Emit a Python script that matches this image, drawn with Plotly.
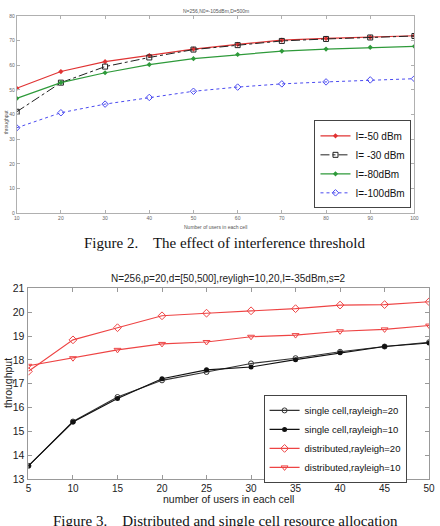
import plotly.graph_objects as go

# ---- Figure 2 data ----
users1 = [10, 20, 30, 40, 50, 60, 70, 80, 90, 100]
i_m50 = [50.6, 57.4, 61.4, 63.9, 66.5, 68.4, 70.1, 70.8, 71.3, 71.9]
i_m30 = [41.1, 52.9, 59.4, 63.1, 66.3, 68.1, 69.8, 70.6, 71.2, 71.8]
i_m80 = [46.5, 52.9, 56.9, 60.2, 62.6, 64.3, 65.7, 66.5, 67.2, 67.6]
i_m100 = [34.6, 40.7, 44.2, 46.9, 49.4, 51.1, 52.4, 53.2, 54.0, 54.5]

# ---- Figure 3 data ----
users2 = [5, 10, 15, 20, 25, 30, 35, 40, 45, 50]
single_r20 = [13.55, 15.41, 16.44, 17.14, 17.49, 17.85, 18.07, 18.34, 18.56, 18.74]
single_r10 = [13.55, 15.39, 16.38, 17.21, 17.58, 17.70, 18.01, 18.30, 18.56, 18.71]
dist_r20 = [17.52, 18.84, 19.35, 19.85, 19.96, 20.06, 20.15, 20.30, 20.32, 20.44]
dist_r10 = [17.75, 18.07, 18.42, 18.67, 18.75, 18.97, 19.04, 19.20, 19.28, 19.44]

W, H = 440, 526
def py(px):
    return 1 - px / H

fig = go.Figure()

# chart 1 traces
fig.add_trace(go.Scatter(x=users1, y=i_m50, name="I=-50 dBm", mode="lines+markers",
                         line=dict(color="#e03333", width=1.2),
                         marker=dict(symbol="diamond", size=4, color="#e03333"),
                         xaxis="x", yaxis="y", legend="legend"))
fig.add_trace(go.Scatter(x=users1, y=i_m30, name="I= -30 dBm", mode="lines+markers",
                         line=dict(color="#222222", width=1, dash="dashdot"),
                         marker=dict(symbol="square-open", size=5, color="#222222"),
                         xaxis="x", yaxis="y", legend="legend"))
fig.add_trace(go.Scatter(x=users1, y=i_m80, name="I=-80dBm", mode="lines+markers",
                         line=dict(color="#2e9a3a", width=1.2),
                         marker=dict(symbol="diamond", size=4, color="#2e9a3a"),
                         xaxis="x", yaxis="y", legend="legend"))
fig.add_trace(go.Scatter(x=users1, y=i_m100, name="I=-100dBm", mode="lines+markers",
                         line=dict(color="#4a4af0", width=1, dash="dot"),
                         marker=dict(symbol="diamond-open", size=5, color="#4a4af0"),
                         xaxis="x", yaxis="y", legend="legend"))

# chart 2 traces
fig.add_trace(go.Scatter(x=users2, y=single_r20, name="single cell,rayleigh=20", mode="lines+markers",
                         line=dict(color="#333333", width=1.1),
                         marker=dict(symbol="circle-open", size=5, color="#333333"),
                         xaxis="x2", yaxis="y2", legend="legend2"))
fig.add_trace(go.Scatter(x=users2, y=single_r10, name="single cell,rayleigh=10", mode="lines+markers",
                         line=dict(color="#111111", width=1.1),
                         marker=dict(symbol="circle", size=5, color="#111111"),
                         xaxis="x2", yaxis="y2", legend="legend2"))
fig.add_trace(go.Scatter(x=users2, y=dist_r20, name="distributed,rayleigh=20", mode="lines+markers",
                         line=dict(color="#ee4444", width=1.1),
                         marker=dict(symbol="diamond-open", size=6, color="#ee4444"),
                         xaxis="x2", yaxis="y2", legend="legend2"))
fig.add_trace(go.Scatter(x=users2, y=dist_r10, name="distributed,rayleigh=10", mode="lines+markers",
                         line=dict(color="#ee4444", width=1.1),
                         marker=dict(symbol="triangle-down-open", size=6, color="#ee4444"),
                         xaxis="x2", yaxis="y2", legend="legend2"))

ax1 = dict(showline=True, linecolor="#b0b0b0", linewidth=1, mirror="ticks", ticks="inside",
           ticklen=3, tickcolor="#b0b0b0", showgrid=False, zeroline=False,
           tickfont=dict(family="Arial", size=5, color="#666666"))
ax2 = dict(showline=True, linecolor="#999999", linewidth=1, mirror="ticks", ticks="inside",
           ticklen=4, tickcolor="#999999", showgrid=False, zeroline=False,
           tickfont=dict(family="Arial", size=10.5, color="#222222"))


def label(text, xpx, ypx, size, color, angle=0, family="Arial", yanchor="middle"):
    return dict(text=text, x=xpx / W, y=py(ypx), xref="paper", yref="paper",
                xanchor="center", yanchor=yanchor, textangle=angle, showarrow=False,
                borderpad=0, font=dict(family=family, size=size, color=color))


fig.update_layout(
    width=W, height=H, margin=dict(l=0, r=0, t=0, b=0),
    paper_bgcolor="white", plot_bgcolor="white", showlegend=True,
    xaxis=dict(ax1, domain=[14 / W, 420 / W], range=[10, 100], dtick=10, anchor="y"),
    yaxis=dict(ax1, domain=[py(212), py(10)], range=[0, 80], dtick=10, anchor="x"),
    xaxis2=dict(ax2, domain=[26 / W, 435 / W], range=[5, 50], dtick=5, anchor="y2", ticklabelstandoff=0,
                tickfont=dict(family="Arial", size=10, color="#222222")),
    yaxis2=dict(ax2, domain=[py(484), py(289)], range=[13, 21], dtick=1, anchor="x2", ticklabelstandoff=1),
    legend=dict(x=318 / W, y=py(117), xanchor="left", yanchor="top",
                bgcolor="white", bordercolor="#444444", borderwidth=1,
                font=dict(family="Arial", size=10, color="#111111"),
                itemwidth=30, tracegroupgap=0),
    legend2=dict(x=412 / W, y=py(398), xanchor="right", yanchor="top",
                 bgcolor="white", bordercolor="#444444", borderwidth=1,
                 font=dict(family="Arial", size=9.5, color="#111111"),
                 itemwidth=30, tracegroupgap=0),
    annotations=[
        label("N=256,N0=-105dBm,D=500m", 217, 5, 5, "#555555"),
        label("Number of users in each cell", 217, 226, 5, "#555555"),
        label("throughput", 3, 118, 5, "#555555", angle=-90),
        label("Figure 2.&nbsp;&nbsp;&nbsp; The effect of interference threshold", 227, 243, 15,
              "#111111", family="Liberation Serif"),
        label("N=256,p=20,d=[50,500],reyligh=10,20,I=-35dBm,s=2", 230, 279, 10, "#222222"),
        label("throughput", 5, 386, 10.5, "#222222", angle=-90),
        label("number of users in each cell", 230, 505, 10.5, "#222222"),
        label("Figure 3.&nbsp;&nbsp;&nbsp; Distributed and single cell resource allocation", 227, 518, 15,
              "#111111", family="Liberation Serif", yanchor="top"),
    ],
)

fig.write_html("out.html")
